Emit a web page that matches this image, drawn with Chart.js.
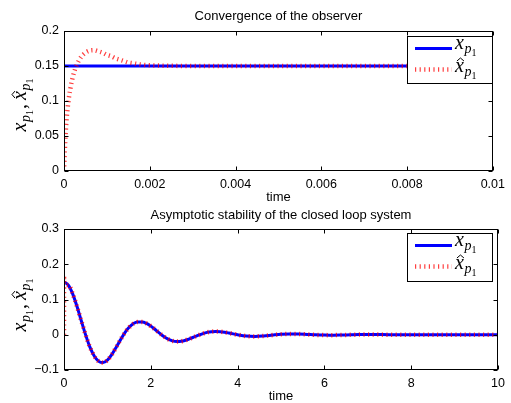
<!DOCTYPE html>
<html>
<head>
<meta charset="utf-8">
<script src="https://cdn.jsdelivr.net/npm/chart.js@4.4.0/dist/chart.umd.min.js"></script>
<style>
  html, body { margin: 0; padding: 0; background: #ffffff; }
  #wrap { position: relative; width: 511px; height: 403px; overflow: hidden; }
  #c1 { position: absolute; left: 0; top: 0; }
  #c2 { position: absolute; left: 0; top: 200px; }
</style>
</head>
<body>
<div id="wrap">
  <canvas id="c1" width="511" height="210"></canvas>
  <canvas id="c2" width="511" height="203"></canvas>
</div>
<script>
// ---------- Data: top plot (convergence of the observer) ----------
const obsTrueTime = [0, 0.01];
const obsTrueValue = [0.15, 0.15];
const obsEstTime = [0, 0.00002, 0.00005, 0.0001, 0.00015, 0.0002, 0.00025, 0.0003, 0.0004, 0.0005, 0.0006, 0.0007, 0.0008, 0.0009, 0.001, 0.0011, 0.0012, 0.0013, 0.0014, 0.0015, 0.0016, 0.0018, 0.002, 0.0025, 0.003, 0.01];
const obsEstValue = [0, 0.03, 0.065, 0.098, 0.118, 0.133, 0.144, 0.152, 0.163, 0.169, 0.172, 0.1725, 0.171, 0.169, 0.166, 0.164, 0.161, 0.159, 0.157, 0.155, 0.154, 0.152, 0.151, 0.1503, 0.150, 0.150];
const topXTicks = [0, 0.002, 0.004, 0.006, 0.008, 0.01];
const topXLabels = ['0', '0.002', '0.004', '0.006', '0.008', '0.01'];
const topYTicks = [0, 0.05, 0.1, 0.15, 0.2];
const topYLabels = ['0', '0.05', '0.1', '0.15', '0.2'];

// ---------- Data: bottom plot (closed loop) ----------
const clTime = [0, 0.1, 0.2, 0.3, 0.4, 0.5, 0.6, 0.7, 0.8, 0.9, 1.0, 1.1, 1.2, 1.3, 1.4, 1.5, 1.6, 1.7, 1.8, 1.9, 2.0, 2.1, 2.2, 2.3, 2.4, 2.5, 2.6, 2.7, 2.8, 2.9, 3.0, 3.1, 3.2, 3.3, 3.4, 3.5, 3.6, 3.7, 3.8, 3.9, 4.0, 4.2, 4.4, 4.6, 4.8, 5.0, 5.2, 5.4, 5.6, 5.8, 6.0, 6.2, 6.4, 6.6, 6.8, 7.0, 7.5, 8.0, 8.5, 9.0, 9.5, 10.0];
const clState = [0.150, 0.1410, 0.1160, 0.0800, 0.0390, -0.0010, -0.0360, -0.0610, -0.0755, -0.0790, -0.0720, -0.0565, -0.0360, -0.0145, 0.0055, 0.0210, 0.0318, 0.0362, 0.0362, 0.0322, 0.0245, 0.0148, 0.0046, -0.0050, -0.0125, -0.0175, -0.0193, -0.0185, -0.0155, -0.0111, -0.0061, -0.0011, 0.0033, 0.0067, 0.0087, 0.0094, 0.0088, 0.0072, 0.0049, 0.0024, 0.0000, -0.0037, -0.0047, -0.0033, -0.0009, 0.0013, 0.0023, 0.0020, 0.0009, -0.0003, -0.0010, -0.0011, -0.0007, -0.0001, 0.0004, 0.0006, 0.0002, -0.0002, 0.0000, 0.0001, 0.0000, 0.0000];
const clEstTime = [0, 0.0003, 0.0008, 0.002, 0.1, 0.2, 0.3, 0.4, 0.5, 0.6, 0.7, 0.8, 0.9, 1.0, 1.1, 1.2, 1.3, 1.4, 1.5, 1.6, 1.7, 1.8, 1.9, 2.0, 2.1, 2.2, 2.3, 2.4, 2.5, 2.6, 2.7, 2.8, 2.9, 3.0, 3.1, 3.2, 3.3, 3.4, 3.5, 3.6, 3.7, 3.8, 3.9, 4.0, 4.2, 4.4, 4.6, 4.8, 5.0, 5.2, 5.4, 5.6, 5.8, 6.0, 6.2, 6.4, 6.6, 6.8, 7.0, 7.5, 8.0, 8.5, 9.0, 9.5, 10.0];
const clEstimate = [0, 0.15, 0.167, 0.152, 0.1410, 0.1160, 0.0800, 0.0390, -0.0010, -0.0360, -0.0610, -0.0755, -0.0790, -0.0720, -0.0565, -0.0360, -0.0145, 0.0055, 0.0210, 0.0318, 0.0362, 0.0362, 0.0322, 0.0245, 0.0148, 0.0046, -0.0050, -0.0125, -0.0175, -0.0193, -0.0185, -0.0155, -0.0111, -0.0061, -0.0011, 0.0033, 0.0067, 0.0087, 0.0094, 0.0088, 0.0072, 0.0049, 0.0024, 0.0000, -0.0037, -0.0047, -0.0033, -0.0009, 0.0013, 0.0023, 0.0020, 0.0009, -0.0003, -0.0010, -0.0011, -0.0007, -0.0001, 0.0004, 0.0006, 0.0002, -0.0002, 0.0000, 0.0001, 0.0000, 0.0000];
const botXTicks = [0, 2, 4, 6, 8, 10];
const botXLabels = ['0', '2', '4', '6', '8', '10'];
const botYTicks = [-0.1, 0, 0.1, 0.2, 0.3];
const botYLabels = ['\u22120.1', '0', '0.1', '0.2', '0.3'];

const topTitle = 'Convergence of the observer';
const botTitle = 'Asymptotic stability of the closed loop system';
const xAxisTitle = 'time';

// ---------- Styles ----------
const BLUE = '#0000ff';
const RED = 'rgba(255,0,0,0.75)';
const SANS = '"Liberation Sans", Arial, Helvetica, sans-serif';
const SERIF = '"Liberation Serif", "DejaVu Serif", serif';
const RED_DASH = [1.2, 3.4];

function toPoints(xs, ys) { return xs.map((x, i) => ({ x: x, y: ys[i] })); }

// draw x_{p_1} (optionally with hat) starting at (x, baseline y); returns width
function drawMath(ctx, x, y, hat) {
  ctx.save();
  ctx.fillStyle = '#000';
  ctx.textBaseline = 'alphabetic';
  ctx.textAlign = 'left';
  ctx.font = 'italic 20px ' + SERIF;
  const wx = ctx.measureText('x').width;
  ctx.fillText('x', x, y);
  if (hat) {
    const hc = x + wx / 2 + 1;
    ctx.strokeStyle = '#000';
    ctx.lineWidth = 1;
    ctx.setLineDash([]);
    ctx.beginPath();
    ctx.moveTo(hc - 3.5, y - 11);
    ctx.lineTo(hc, y - 14);
    ctx.lineTo(hc + 3.5, y - 11);
    ctx.stroke();
  }
  ctx.font = 'italic 14px ' + SERIF;
  const wp = ctx.measureText('p').width;
  ctx.fillText('p', x + wx + 0.5, y + 4);
  ctx.font = '10px ' + SERIF;
  const w1 = ctx.measureText('1').width;
  ctx.fillText('1', x + wx + wp + 0.5, y + 7);
  ctx.restore();
  return wx + wp + w1 + 0.5;
}

function mathWidth(ctx) {
  ctx.save();
  ctx.font = 'italic 20px ' + SERIF;
  const wx = ctx.measureText('x').width;
  ctx.font = 'italic 14px ' + SERIF;
  const wp = ctx.measureText('p').width;
  ctx.font = '10px ' + SERIF;
  const w1 = ctx.measureText('1').width;
  ctx.restore();
  return wx + wp + w1 + 0.5;
}

const decor = {
  id: 'decor',
  afterDatasetsDraw(chart, args, opts) {
    const ctx = chart.ctx;
    const a = chart.chartArea;
    const L = Math.round(a.left) + 0.5, R = Math.round(a.right) - 0.5;
    const T = Math.round(a.top) + 0.5, B = Math.round(a.bottom) - 0.5;
    ctx.save();
    ctx.strokeStyle = '#000';
    ctx.lineWidth = 1;
    // inner ticks
    const xs = chart.scales.x, ys = chart.scales.y;
    const tl = 4;
    ctx.beginPath();
    xs.ticks.forEach(t => {
      const px = Math.round(xs.getPixelForValue(t.value)) + 0.5;
      ctx.moveTo(px, B); ctx.lineTo(px, B - tl);
      ctx.moveTo(px, T); ctx.lineTo(px, T + tl);
    });
    ys.ticks.forEach(t => {
      const py = Math.round(ys.getPixelForValue(t.value)) + 0.5;
      ctx.moveTo(L, py); ctx.lineTo(L + tl, py);
      ctx.moveTo(R, py); ctx.lineTo(R - tl, py);
    });
    ctx.stroke();
    // frame
    ctx.strokeRect(L, T, R - L, B - T);

    // legend box
    const lg = opts.legend;
    ctx.fillStyle = '#fff';
    ctx.fillRect(lg.x + 0.5, lg.y + 0.5, lg.w, lg.h);
    ctx.strokeRect(lg.x + 0.5, lg.y + 0.5, lg.w, lg.h);
    // blue sample
    ctx.beginPath();
    ctx.strokeStyle = BLUE; ctx.lineWidth = 3;
    ctx.moveTo(lg.x + 8, lg.y + 12.5); ctx.lineTo(lg.x + 45, lg.y + 12.5);
    ctx.stroke();
    // red sample
    ctx.beginPath();
    ctx.strokeStyle = RED; ctx.lineWidth = 4.5;
    ctx.setLineDash(RED_DASH);
    ctx.moveTo(lg.x + 8, lg.y + 33.5); ctx.lineTo(lg.x + 45, lg.y + 33.5);
    ctx.stroke();
    ctx.setLineDash([]);
    drawMath(ctx, lg.x + 48, lg.y + 13, false);
    drawMath(ctx, lg.x + 48, lg.y + 36, true);

    // title
    ctx.fillStyle = '#000';
    ctx.font = '13px ' + SANS;
    ctx.textAlign = 'center';
    ctx.textBaseline = 'alphabetic';
    const cx = (a.left + a.right) / 2;
    ctx.fillText(opts.title, cx, opts.titleY);
    ctx.fillText(xAxisTitle, cx, opts.xTitleY);

    // y label (rotated)
    const mw = mathWidth(ctx);
    ctx.font = '20px ' + SERIF;
    const cw = ctx.measureText(', ').width;
    const total = mw * 2 + cw;
    ctx.translate(opts.yLabelX, opts.yLabelCY);
    ctx.rotate(-Math.PI / 2);
    let x0 = -total / 2;
    drawMath(ctx, x0, 0, false);
    ctx.fillStyle = '#000';
    ctx.textAlign = 'left';
    ctx.font = '20px ' + SERIF;
    ctx.fillText(',', x0 + mw + 1, 0);
    drawMath(ctx, x0 + mw + cw, 0, true);
    ctx.restore();
  }
};

function makeChart(id, datasets, cfg) {
  return new Chart(document.getElementById(id), {
    type: 'line',
    data: { datasets: datasets },
    options: {
      responsive: false,
      animation: false,
      devicePixelRatio: 1,
      layout: { padding: { top: cfg.padTop, right: 12, bottom: 0, left: 0 } },
      plugins: {
        legend: { display: false },
        tooltip: { enabled: false },
        title: { display: false },
        decor: cfg.decor
      },
      scales: {
        x: {
          type: 'linear', min: cfg.xMin, max: cfg.xMax,
          grid: { display: false, drawTicks: false },
          border: { display: false },
          afterBuildTicks: s => { s.ticks = cfg.xTicks.map(v => ({ value: v })); },
          afterFit: s => { s.height = cfg.xHeight; },
          ticks: {
            autoSkip: false, maxRotation: 0, padding: 6, color: '#000',
            font: { family: SANS, size: 12.5 },
            callback: (v, i) => cfg.xLabels[i]
          }
        },
        y: {
          type: 'linear', min: cfg.yMin, max: cfg.yMax,
          grid: { display: false, drawTicks: false },
          border: { display: false },
          afterBuildTicks: s => { s.ticks = cfg.yTicks.map(v => ({ value: v })); },
          afterFit: s => { s.width = 64; },
          ticks: {
            autoSkip: false, padding: 5, color: '#000',
            font: { family: SANS, size: 12.5 },
            callback: (v, i) => cfg.yLabels[i]
          }
        }
      }
    },
    plugins: [decor]
  });
}

function seriesPair(tx, ty, ex, ey) {
  return [
    { label: 'x_p1', data: toPoints(tx, ty), borderColor: BLUE, borderWidth: 3,
      pointRadius: 0, fill: false, cubicInterpolationMode: 'monotone', order: 2 },
    { label: 'xhat_p1', data: toPoints(ex, ey), borderColor: RED, borderWidth: 4.5,
      borderDash: RED_DASH, pointRadius: 0, fill: false, cubicInterpolationMode: 'monotone', order: 1 }
  ];
}

makeChart('c1', seriesPair(obsTrueTime, obsTrueValue, obsEstTime, obsEstValue), {
  padTop: 31, xHeight: 39,
  xMin: 0, xMax: 0.01, xTicks: topXTicks, xLabels: topXLabels,
  yMin: 0, yMax: 0.2, yTicks: topYTicks, yLabels: topYLabels,
  decor: { title: topTitle, titleY: 20, xTitleY: 201, yLabelX: 26, yLabelCY: 105,
           legend: { x: 407, y: 36, w: 85, h: 47 } }
});

makeChart('c2', seriesPair(clTime, clState, clEstTime, clEstimate), {
  padTop: 29, xHeight: 33,
  xMin: 0, xMax: 10, xTicks: botXTicks, xLabels: botXLabels,
  yMin: -0.1, yMax: 0.3, yTicks: botYTicks, yLabels: botYLabels,
  decor: { title: botTitle, titleY: 19, xTitleY: 200, yLabelX: 26, yLabelCY: 105,
           legend: { x: 407, y: 33, w: 85, h: 48 } }
});
</script>
</body>
</html>
